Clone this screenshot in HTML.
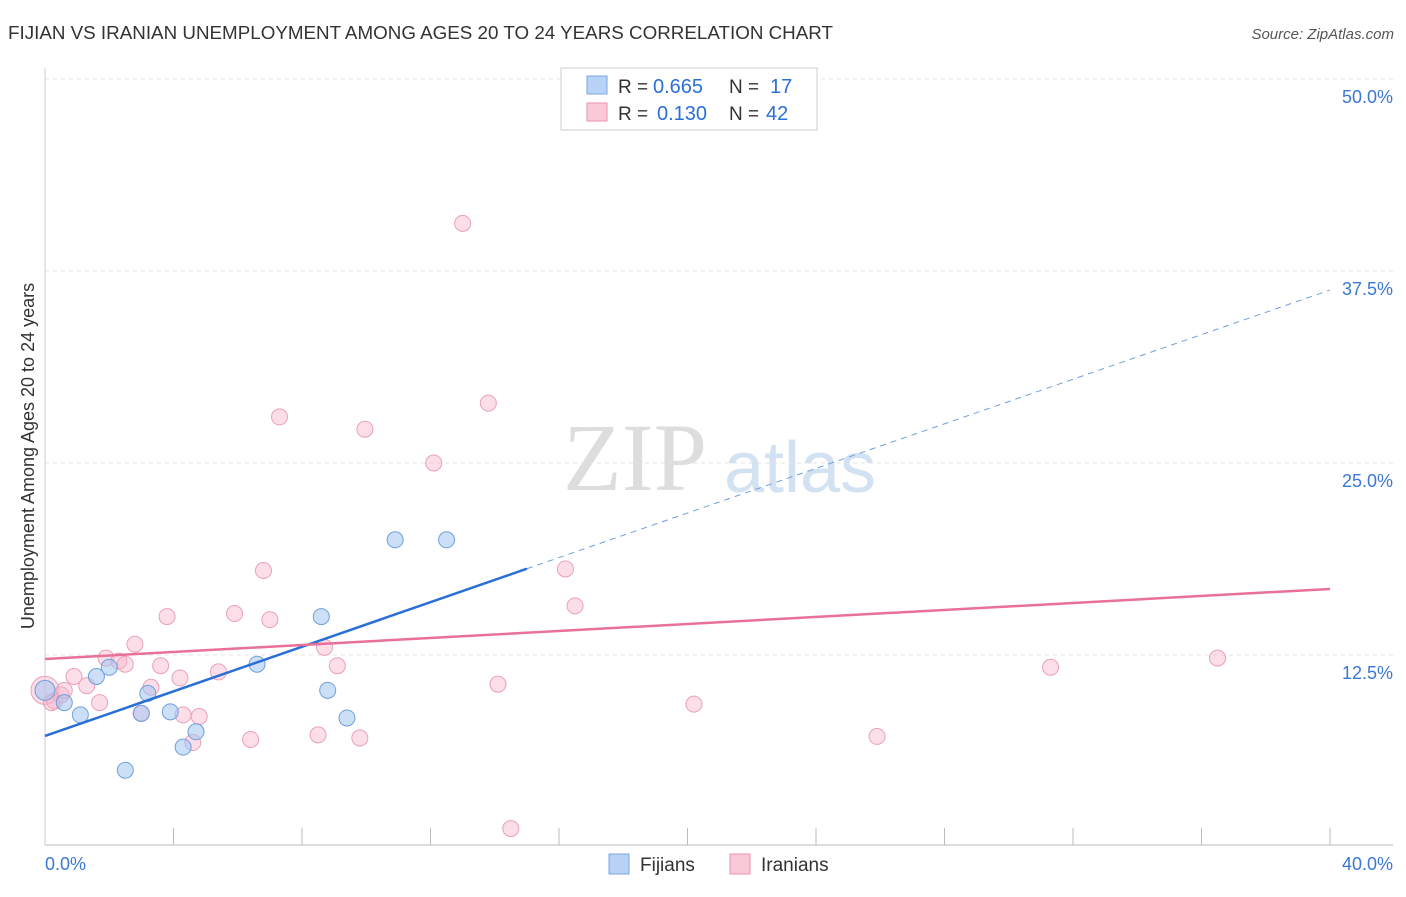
<!DOCTYPE html>
<html><head><meta charset="utf-8"><style>
body{margin:0;background:#fff;font-family:"Liberation Sans",sans-serif;}
</style></head><body>
<svg id="c" width="1406" height="892" xmlns="http://www.w3.org/2000/svg">
<text x="8" y="39" font-size="18" fill="#333" textLength="825" lengthAdjust="spacingAndGlyphs">FIJIAN VS IRANIAN UNEMPLOYMENT AMONG AGES 20 TO 24 YEARS CORRELATION CHART</text>
<text x="1394" y="39" font-size="15" fill="#555" font-style="italic" text-anchor="end">Source: ZipAtlas.com</text>
<text x="635" y="490" font-size="96" fill="#ddd" font-family="Liberation Serif" text-anchor="middle">ZIP</text>
<text x="800" y="492" font-size="72" fill="#d3e2f3" text-anchor="middle">atlas</text>
<text transform="translate(34,456) rotate(-90)" font-size="18" fill="#333" text-anchor="middle">Unemployment Among Ages 20 to 24 years</text>
<g id="grid"></g><g id="marks"></g>
<g>
<rect x="561" y="68" width="256" height="62" fill="#fff" stroke="#ccc"/>
<rect x="587" y="76" width="20" height="18" fill="#b8d3f5" stroke="#7aa6e0"/>
<rect x="587" y="103" width="20" height="18" fill="#fbc8d8" stroke="#ea93b0"/>
<text x="618" y="93" font-size="19" fill="#333">R =</text>
<text x="653" y="93" font-size="20" fill="#2a6fd6">0.665</text>
<text x="729" y="93" font-size="19" fill="#333">N =</text>
<text x="770" y="93" font-size="20" fill="#2a6fd6">17</text>
<text x="618" y="120" font-size="19" fill="#333">R =</text>
<text x="657" y="120" font-size="20" fill="#2a6fd6">0.130</text>
<text x="729" y="120" font-size="19" fill="#333">N =</text>
<text x="766" y="120" font-size="20" fill="#2a6fd6">42</text>
</g>
<g>
<rect x="609" y="854" width="20" height="20" fill="#b8d3f5" stroke="#7aa6e0"/>
<text x="640" y="871" font-size="19" fill="#333">Fijians</text>
<rect x="730" y="854" width="20" height="20" fill="#fbc8d8" stroke="#ea93b0"/>
<text x="761" y="871" font-size="19" fill="#333">Iranians</text>
</g>
</svg>
<script>
const yTicks=[12.5,25,37.5,50];
const yTickLabels=["12.5%","25.0%","37.5%","50.0%"];
const xTickLabels=["0.0%","40.0%"];
const fijianX=[0,0.6,1.1,1.6,2.0,2.5,3.0,3.2,3.9,4.3,4.7,6.6,8.6,8.8,9.4,10.9,12.5];
const fijianY=[10.2,9.4,8.6,11.1,11.7,5.0,8.7,10.0,8.8,6.5,7.5,11.9,15.0,10.2,8.4,20.0,20.0];
const iranX=[0,0.3,0.5,0.6,0.9,1.3,1.7,1.9,2.3,2.5,2.8,2.99,3.3,3.6,3.8,4.3,4.2,4.6,4.8,5.4,5.9,6.4,6.8,7.0,7.3,8.5,8.7,9.1,9.8,9.96,12.1,13.0,13.8,14.1,14.5,16.2,16.5,20.2,25.9,31.3,36.5,0.2];
const iranY=[10.2,9.5,9.9,10.2,11.1,10.5,9.4,12.3,12.1,11.9,13.2,8.7,10.4,11.8,15.0,8.6,11.0,6.8,8.5,11.4,15.2,7.0,18.0,14.8,28.0,7.3,13.0,11.8,7.1,27.2,25.0,40.6,28.9,10.6,1.2,18.1,15.7,9.3,7.2,11.7,12.3,9.4];
const fijianTrend=[7.23,36.26];
const iranTrend=[12.24,16.8];
const NS="http://www.w3.org/2000/svg";
const X=v=>45+v*32.125, Y=v=>847-v*15.36;
function mk(t,a,p){const e=document.createElementNS(NS,t);for(const k in a)e.setAttribute(k,a[k]);p.appendChild(e);return e;}
const grid=document.getElementById('grid'),marks=document.getElementById('marks');
yTicks.forEach((t,i)=>{
 const l=mk('line',{x1:45,x2:1393,y1:Y(t),y2:Y(t),stroke:'#e3e3e3','stroke-dasharray':'4,4'},grid);
 
 
 const tx=mk('text',{x:1393,y:Y(t)+24,'font-size':18,fill:'#3a78d4','text-anchor':'end'},grid);tx.textContent=yTickLabels[i];
 
 
});
const ax=mk('line',{x1:45,x2:1393,y1:845,y2:845,stroke:'#bbb'},grid);


const ay=mk('line',{x1:45,x2:45,y1:68,y2:845,stroke:'#ccc'},grid);


for(let i=1;i<=10;i++){const t=mk('line',{x1:X(i*4),x2:X(i*4),y1:828,y2:845,stroke:'#bbb'},grid);
 
 }
[[0,'start',45],[40,'end',1393]].forEach((d,i)=>{const t=mk('text',{x:d[2],y:870,'font-size':18,fill:'#3a78d4','text-anchor':d[1]},grid);t.textContent=xTickLabels[i];
 
 });
iranX.forEach((v,i)=>{const c=mk('circle',{cx:X(v),cy:Y(iranY[i]),r:i==0?14:8,fill:'rgba(248,182,204,0.45)',stroke:'#eaa0ba','stroke-width':1},marks);
 
 });
fijianX.forEach((v,i)=>{const c=mk('circle',{cx:X(v),cy:Y(fijianY[i]),r:i==0?10:8,fill:'rgba(160,196,240,0.55)',stroke:'#6f9fdc','stroke-width':1},marks);
 
 });
const fy=x=>fijianTrend[0]+(fijianTrend[1]-fijianTrend[0])*x/40;
const iy=x=>iranTrend[0]+(iranTrend[1]-iranTrend[0])*x/40;
const bl=mk('line',{x1:X(0),y1:Y(fy(0)),x2:X(15),y2:Y(fy(15)),stroke:'#2a6fd6','stroke-width':2.5},marks);


const bd=mk('line',{x1:X(15),y1:Y(fy(15)),x2:X(40),y2:Y(fy(40)),stroke:'#6f9fdc','stroke-width':1,'stroke-dasharray':'6,5'},marks);


const pl=mk('line',{x1:X(0),y1:Y(iy(0)),x2:X(40),y2:Y(iy(40)),stroke:'#e8709a','stroke-width':2.5},marks);


</script>
</body></html>
